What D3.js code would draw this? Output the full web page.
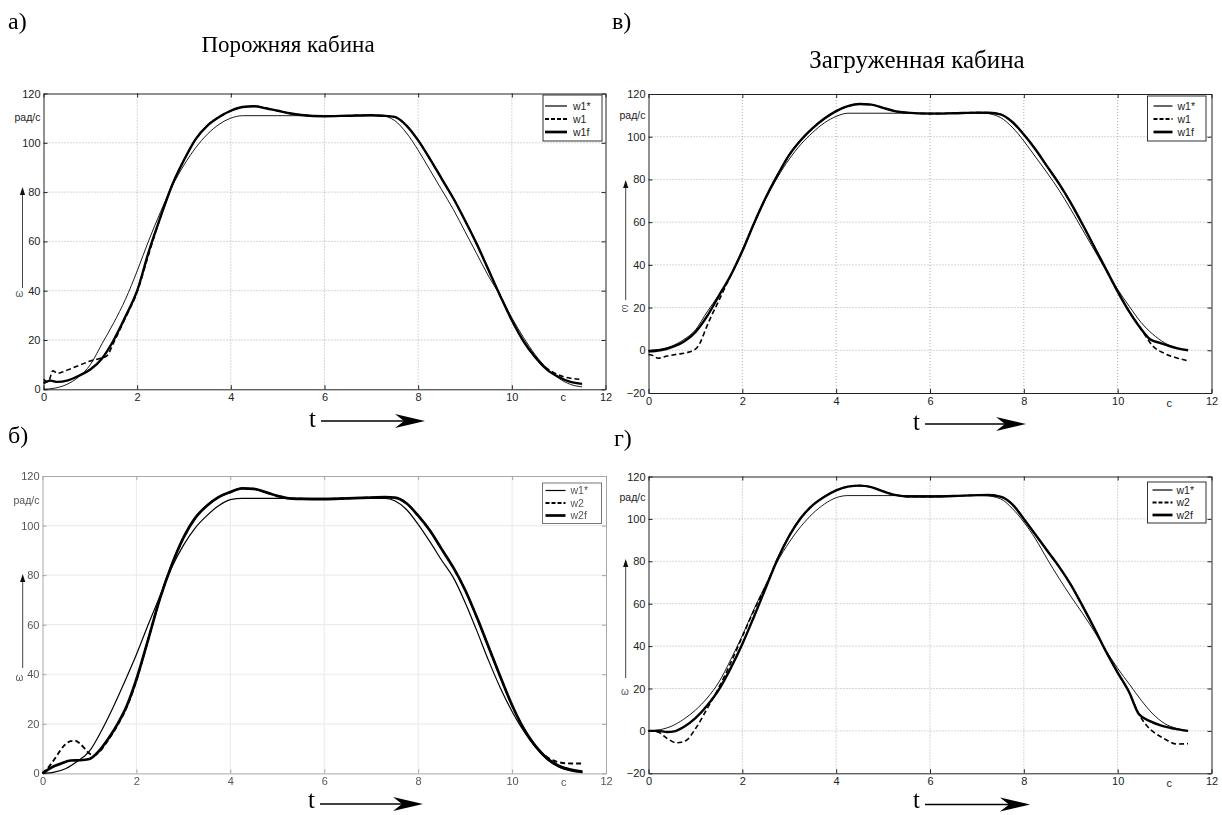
<!DOCTYPE html>
<html>
<head>
<meta charset="utf-8">
<script src="https://cdn.jsdelivr.net/npm/d3@7"></script>
<style>
  body { margin: 0; background: #fff; }
  svg { display: block; }
</style>
</head>
<body>
<svg id="chart" width="1222" height="815"></svg>
<script>
// ---- data: [t (s), omega (rad/s)] ----
const timeTicks = [0, 2, 4, 6, 8, 10, 12];
const emptyTicks = [0, 20, 40, 60, 80, 100, 120];
const loadedTicks = [-20, 0, 20, 40, 60, 80, 100, 120];
const legendNames1 = ["w1*", "w1", "w1f"];
const legendNames2 = ["w1*", "w2", "w2f"];

// а) empty cabin, sensor 1
const emptyRef1 = [[0,0],[0.25,0.5],[0.5,2],[0.75,5],[1,10],[1.25,18.5],[1.5,27],[1.75,36.5],[2,48],[2.25,60.5],[2.5,72],[2.75,82.5],[3,91],[3.25,98],[3.5,103.5],[3.75,107.5],[4,110],[4.25,111],[5,111],[6,111],[7,111],[7.2,111],[7.5,109],[7.75,104],[8,97],[8.25,89],[8.5,81],[8.75,73],[9,64],[9.25,55],[9.5,46],[9.75,38],[10,29],[10.25,21],[10.5,14],[10.75,8.5],[11,4.5],[11.25,2],[11.5,1]];
const emptyMeas1 = [[0,4],[0.1,3],[0.2,7.5],[0.3,6.5],[0.4,7],[0.6,8.5],[0.8,10],[1,11.5],[1.2,12.5],[1.35,13.5],[1.5,19],[1.75,29],[2,39.5],[2.25,55],[2.5,70],[2.75,83],[3,93],[3.25,101.5],[3.5,107],[3.75,110.5],[4,113],[4.25,114.5],[4.5,114.8],[4.75,114],[5,113],[5.25,112],[5.5,111.3],[6,110.8],[6.5,111],[7,111.2],[7.25,111],[7.5,110.5],[7.75,107],[8,101],[8.25,93.5],[8.5,85.5],[8.75,77.5],[9,68.5],[9.25,59],[9.5,48.5],[9.75,38],[10,28],[10.25,19.5],[10.5,13],[10.75,8.5],[11,5.8],[11.25,4.5],[11.5,4]];
const emptyFilt1 = [[0,2.5],[0.15,3.5],[0.3,3],[0.5,3.5],[0.75,5.5],[1,8],[1.25,12.5],[1.5,20],[1.75,29.5],[2,40],[2.25,56],[2.5,70],[2.75,83],[3,93],[3.25,101.5],[3.5,107],[3.75,110.5],[4,113],[4.25,114.5],[4.5,114.8],[4.75,114],[5,113],[5.25,112],[5.5,111.3],[6,110.8],[6.5,111],[7,111.2],[7.25,111],[7.5,110.5],[7.75,107],[8,101],[8.25,93.5],[8.5,85.5],[8.75,77.5],[9,68.5],[9.25,59],[9.5,48.5],[9.75,38],[10,28],[10.25,19.5],[10.5,13],[10.75,8],[11,5],[11.25,3],[11.5,2.2]];

// в) loaded cabin, sensor 1
const loadedRef1 = [[0,0],[0.25,0.5],[0.5,2],[0.75,5],[1,9.5],[1.25,18],[1.5,26],[1.75,35],[2,47],[2.25,59],[2.5,71],[2.75,81],[3,89.5],[3.25,96.5],[3.5,102],[3.75,106.5],[4,109.5],[4.25,111],[5,111],[6,111],[7,111],[7.15,111],[7.5,109],[7.75,104.5],[8,98],[8.25,90.5],[8.5,83],[8.75,75],[9,66],[9.25,56.5],[9.5,47],[9.75,37.5],[10,28.5],[10.25,20.5],[10.5,13],[10.75,7.5],[11,3.5],[11.25,1],[11.5,0]];
const loadedMeas1 = [[0,-2],[0.1,-2.5],[0.2,-3.7],[0.4,-2.7],[0.6,-1.9],[0.8,-1.2],[1,0.5],[1.1,3.5],[1.23,10.5],[1.35,16.5],[1.45,21],[1.6,28],[1.75,35],[2,46.5],[2.25,59.5],[2.5,71.5],[2.75,82],[3,91.5],[3.25,98.5],[3.5,104],[3.75,108.5],[4,112],[4.25,114.3],[4.5,115.3],[4.75,115],[5,113.5],[5.25,112],[5.5,111.3],[6,110.8],[6.5,111],[7,111.3],[7.25,111.2],[7.5,110.5],[7.75,107],[8,101],[8.25,94],[8.5,86],[8.75,78],[9,69],[9.25,59],[9.5,48.5],[9.75,38],[10,27.5],[10.25,18],[10.5,10],[10.75,2],[11,-1.5],[11.25,-3.5],[11.5,-5]];
const loadedFilt1 = [[0,-0.5],[0.25,0],[0.5,1.5],[0.75,4],[1,8.5],[1.25,16],[1.5,25.5],[1.75,35],[2,46.5],[2.25,59.5],[2.5,71.5],[2.75,82],[3,91.5],[3.25,98.5],[3.5,104],[3.75,108.5],[4,112],[4.25,114.3],[4.5,115.3],[4.75,115],[5,113.5],[5.25,112],[5.5,111.3],[6,110.8],[6.5,111],[7,111.3],[7.25,111.2],[7.5,110.5],[7.75,107],[8,101],[8.25,94],[8.5,86],[8.75,78],[9,69],[9.25,59],[9.5,48.5],[9.75,38],[10,27.5],[10.25,18],[10.5,10],[10.7,5],[10.9,3.5],[11.1,2],[11.3,0.8],[11.5,0]];

// б) empty cabin, sensor 2
const emptyRef2 = [[0,0],[0.25,0.5],[0.5,2],[0.75,5],[1,9],[1.25,17],[1.5,26.5],[1.75,37],[2,48],[2.25,60],[2.5,71.5],[2.75,83],[3,92],[3.25,99],[3.5,104],[3.75,108],[4,110.5],[4.25,111],[5,111],[6,111],[7,111],[7.3,111],[7.5,110],[7.75,106.5],[8,100.5],[8.25,93.5],[8.5,86],[8.75,79],[9,69],[9.25,57.5],[9.5,45.5],[9.75,34.5],[10,25],[10.25,17],[10.5,10.5],[10.75,5.5],[11,2.5],[11.25,1],[11.5,0.3]];
const emptyMeas2 = [[0,0],[0.15,3],[0.3,7],[0.45,11],[0.6,13],[0.7,13.2],[0.8,12],[0.9,10],[1,8],[1.1,7.3],[1.2,8.5],[1.4,13.5],[1.6,19.5],[1.8,27],[2,37.5],[2.25,54],[2.5,70.5],[2.75,84],[3,95],[3.25,103],[3.5,108],[3.75,111.5],[4,113.5],[4.25,115],[4.5,114.8],[4.75,113.5],[5,112],[5.25,111],[5.5,110.8],[6,110.7],[6.5,111],[7,111.3],[7.3,111.5],[7.5,111.3],[7.75,109],[8,104],[8.25,98],[8.5,90.5],[8.75,83],[9,74],[9.25,63],[9.5,51],[9.75,39],[10,27.5],[10.25,18],[10.5,11],[10.75,6.5],[11,4.5],[11.25,4],[11.5,4]];
const emptyFilt2 = [[0,0],[0.2,2.5],[0.4,4],[0.6,5.2],[0.8,5.3],[1,5.8],[1.2,9],[1.4,14],[1.6,20],[1.8,27.5],[2,38],[2.25,54],[2.5,70.5],[2.75,84],[3,95],[3.25,103],[3.5,108],[3.75,111.5],[4,113.5],[4.25,115],[4.5,114.8],[4.75,113.5],[5,112],[5.25,111],[5.5,110.8],[6,110.7],[6.5,111],[7,111.3],[7.3,111.5],[7.5,111.3],[7.75,109],[8,104],[8.25,98],[8.5,90.5],[8.75,83],[9,74],[9.25,63],[9.5,51],[9.75,39],[10,27.5],[10.25,18],[10.5,11],[10.75,6],[11,3],[11.25,1.5],[11.5,0.7]];

// г) loaded cabin, sensor 2
const loadedRef2 = [[0,0],[0.25,0.6],[0.5,2.3],[0.75,5.5],[1,9.8],[1.25,15.5],[1.5,23],[1.75,33.5],[2,45],[2.25,57.5],[2.5,69],[2.75,80],[3,89],[3.25,96.5],[3.5,102.5],[3.75,107],[4,110],[4.25,111],[5,111],[6,111],[7,111],[7.15,111],[7.5,109.5],[7.75,105],[8,98.5],[8.25,90.5],[8.5,81],[8.75,72],[9,63.5],[9.25,55.5],[9.5,47],[9.75,38],[10,29.5],[10.25,22],[10.5,14.5],[10.75,8],[11,3.5],[11.25,1.2],[11.5,0]];
const loadedMeas2 = [[0,0],[0.2,-0.5],[0.4,-3.6],[0.6,-5.6],[0.8,-4.5],[1,1],[1.25,10.5],[1.5,20.5],[1.75,32],[2,44.5],[2.25,57],[2.5,68.5],[2.75,81],[3,92],[3.25,100.5],[3.5,106.5],[3.75,110.5],[4,113.5],[4.25,115.2],[4.5,115.7],[4.75,115],[5,113],[5.25,111.3],[5.5,110.6],[6,110.5],[6.5,110.8],[7,111.2],[7.25,111.3],[7.5,110.5],[7.75,107],[8,100],[8.25,92.5],[8.5,85],[8.75,77.5],[9,69],[9.25,59],[9.5,48.5],[9.75,37.5],[10,27.5],[10.25,18],[10.45,8],[10.6,3],[10.76,-0.5],[10.9,-2.5],[11.05,-4.4],[11.25,-6.2],[11.5,-6]];
const loadedFilt2 = [[0,0],[0.2,0],[0.4,-0.5],[0.55,-0.2],[0.75,1.8],[1,6],[1.25,12],[1.5,19.5],[1.75,29.5],[2,41],[2.25,54],[2.5,67.5],[2.75,81],[3,92],[3.25,100.5],[3.5,106.5],[3.75,110.5],[4,113.5],[4.25,115.2],[4.5,115.7],[4.75,115],[5,113],[5.25,111.3],[5.5,110.6],[6,110.5],[6.5,110.8],[7,111.2],[7.25,111.3],[7.5,110.5],[7.75,107],[8,100],[8.25,92.5],[8.5,85],[8.75,77.5],[9,69],[9.25,59],[9.5,48.5],[9.75,37.5],[10,27.5],[10.25,18],[10.45,8],[10.7,4.5],[10.9,2.7],[11.2,1.1],[11.5,0]];

// ---- layout ----
const panels = [
  { letter: "а)", lx: 8, ly: 29, title: "Порожняя кабина", tx: 288, ty: 52, tsize: 23,
    left: 43.5, right: 605.5, top: 93.5, bottom: 389.3, yDomain: [0, 120], yTicks: emptyTicks,
    series: [emptyRef1, emptyMeas1, emptyFilt1], names: legendNames1,
    legend: { x: 543, y: 95, w: 59, h: 46, r0: 11, dr: 13, sx: 2, sw: 22, txt: 30 },
    tArr: { x: 309, ty: 427, y: 421, x2: 425 },
    wArr: { x: 22.5, y1: 288, y2: 187, wx: 19.5, wy: 294, rot: 0 },
    secDy: 12, scan: false },
  { letter: "в)", lx: 612, ly: 29, title: "Загруженная кабина", tx: 917, ty: 68, tsize: 25,
    left: 648.5, right: 1211.5, top: 94, bottom: 393, yDomain: [-20, 120], yTicks: loadedTicks,
    series: [loadedRef1, loadedMeas1, loadedFilt1], names: legendNames1,
    legend: { x: 1147.5, y: 96, w: 58.5, h: 45, r0: 10, dr: 13, sx: 6, sw: 19, txt: 30 },
    tArr: { x: 913, ty: 430, y: 424, x2: 1026 },
    wArr: { x: 625.7, y1: 300, y2: 180, wx: 625.5, wy: 308.5, rot: 90 },
    secDy: 14, scan: false },
  { letter: "б)", lx: 8, ly: 443, title: null,
    left: 42.5, right: 606, top: 476, bottom: 773.4, yDomain: [0, 120], yTicks: emptyTicks,
    series: [emptyRef2, emptyMeas2, emptyFilt2], names: legendNames2,
    legend: { x: 542.5, y: 483, w: 59, h: 40.5, r0: 7.5, dr: 12.5, sx: 3, sw: 20, txt: 28 },
    tArr: { x: 308, ty: 808, y: 804, x2: 423 },
    wArr: { x: 22.7, y1: 668, y2: 574, wx: 19.5, wy: 678, rot: 0 },
    secDy: 13, scan: true },
  { letter: "г)", lx: 614, ly: 446, title: null,
    left: 648.5, right: 1211.5, top: 476.5, bottom: 773.3, yDomain: [-20, 120], yTicks: loadedTicks,
    series: [loadedRef2, loadedMeas2, loadedFilt2], names: legendNames2,
    legend: { x: 1147.5, y: 482, w: 58.5, h: 41, r0: 8, dr: 12.5, sx: 5, sw: 20, txt: 29 },
    tArr: { x: 913, ty: 808, y: 804.5, x2: 1030 },
    wArr: { x: 625.7, y1: 678, y2: 559, wx: 625, wy: 692, rot: 0 },
    secDy: 13.5, scan: false }
];

const svg = d3.select("#chart");
const sans = "'Liberation Sans', Arial, sans-serif";
const serif = "'Liberation Serif', 'Times New Roman', serif";

const defs = svg.append("defs");
defs.append("filter").attr("id", "scan")
  .append("feGaussianBlur").attr("stdDeviation", 0.45);

const seriesStyle = [
  { width: 0.9, dash: null },      // reference w1*
  { width: 1.6, dash: "5,3" },     // measured (dashed)
  { width: 2.4, dash: null }       // filtered (thick)
];

panels.forEach((p) => {
  const g = svg.append("g");
  if (p.scan) g.attr("filter", "url(#scan)");

  const frameColor = p.scan ? "#a8a8a8" : "#222";
  const labelColor = p.scan ? "#555" : "#222";

  const x = d3.scaleLinear().domain([0, 12]).range([p.left, p.right]);
  const y = d3.scaleLinear().domain(p.yDomain).range([p.bottom, p.top]);

  // grid
  const grid = g.append("g")
    .attr("stroke", p.scan ? "#ececec" : "#9a9a9a")
    .attr("stroke-width", p.scan ? 1.2 : 0.8)
    .attr("stroke-dasharray", p.scan ? null : "1,2");
  grid.selectAll("line.v").data(timeTicks.slice(1, -1)).join("line")
    .attr("x1", (d) => x(d)).attr("x2", (d) => x(d))
    .attr("y1", p.top).attr("y2", p.bottom);
  grid.selectAll("line.h").data(p.yTicks.slice(1, -1)).join("line")
    .attr("x1", p.left).attr("x2", p.right)
    .attr("y1", (d) => y(d)).attr("y2", (d) => y(d));

  // axes (MATLAB-like, ticks inside on all sides)
  const axes = [
    [d3.axisBottom(x), `translate(0,${p.bottom})`, timeTicks, 4],
    [d3.axisTop(x), `translate(0,${p.top})`, timeTicks, null],
    [d3.axisLeft(y), `translate(${p.left},0)`, p.yTicks, 3],
    [d3.axisRight(y), `translate(${p.right},0)`, p.yTicks, null]
  ];
  axes.forEach(([ax, tr, ticks, pad]) => {
    const labelled = pad !== null;
    const a = g.append("g").attr("transform", tr)
      .call(ax.tickValues(ticks).tickSizeInner(-4).tickSizeOuter(0)
        .tickPadding(labelled ? pad : 0).tickFormat(labelled ? d3.format("d") : ""));
    a.select(".domain").attr("stroke", frameColor).attr("stroke-width", 1);
    a.selectAll(".tick line").attr("stroke", frameColor);
    a.selectAll(".tick text")
      .attr("font-family", sans).attr("font-size", 11).attr("fill", labelColor);
  });

  // curves
  const line = d3.line()
    .x((d) => x(d[0]))
    .y((d) => y(d[1]))
    .curve(d3.curveMonotoneX);
  [0, 2, 1].forEach((i) => {
    g.append("path")
      .datum(p.series[i])
      .attr("fill", "none")
      .attr("stroke", "#000")
      .attr("stroke-width", seriesStyle[i].width + (p.scan ? 0.3 : 0))
      .attr("stroke-dasharray", seriesStyle[i].dash)
      .attr("stroke-linejoin", "round")
      .attr("d", line);
  });

  // legend
  const L = p.legend;
  const lg = g.append("g").attr("transform", `translate(${L.x},${L.y})`);
  lg.append("rect").attr("width", L.w).attr("height", L.h)
    .attr("fill", "#fff").attr("stroke", p.scan ? "#777" : "#333").attr("stroke-width", 1);
  p.names.forEach((name, i) => {
    const ry = L.r0 + i * L.dr;
    lg.append("line")
      .attr("x1", L.sx).attr("x2", L.sx + L.sw).attr("y1", ry).attr("y2", ry)
      .attr("stroke", "#000")
      .attr("stroke-width", seriesStyle[i].width + 0.3)
      .attr("stroke-dasharray", seriesStyle[i].dash ? "4,2" : null);
    lg.append("text")
      .attr("x", L.txt).attr("y", ry + 3.8)
      .attr("font-family", sans).attr("font-size", 10.5).attr("fill", labelColor)
      .text(name);
  });

  // units
  g.append("text")
    .attr("x", p.left - 3).attr("y", y(110.3) + 4)
    .attr("text-anchor", "end")
    .attr("font-family", sans).attr("font-size", 10.5).attr("fill", labelColor)
    .text("рад/с");
  g.append("text")
    .attr("x", x(11.1)).attr("y", p.bottom + p.secDy)
    .attr("text-anchor", "middle")
    .attr("font-family", sans).attr("font-size", 11).attr("fill", labelColor)
    .text("с");

  // omega arrow
  const W = p.wArr;
  g.append("line")
    .attr("x1", W.x).attr("x2", W.x).attr("y1", W.y1).attr("y2", W.y2 + 6)
    .attr("stroke", "#444").attr("stroke-width", 1);
  g.append("path")
    .attr("d", `M${W.x},${W.y2} L${W.x - 2.6},${W.y2 + 8} L${W.x + 2.6},${W.y2 + 8} Z`)
    .attr("fill", "#111");
  g.append("text")
    .attr("transform", `translate(${W.wx},${W.wy}) rotate(${W.rot})`)
    .attr("text-anchor", "middle").attr("dy", "0.32em")
    .attr("font-family", sans).attr("font-size", 10).attr("fill", "#555")
    .text("ω");
});

// time arrows and labels (outside the scan blur)
panels.forEach((p) => {
  const T = p.tArr;
  svg.append("text")
    .attr("x", T.x).attr("y", T.ty)
    .attr("font-family", serif).attr("font-size", 25).attr("fill", "#000")
    .text("t");
  svg.append("line")
    .attr("x1", T.x + 12).attr("x2", T.x2 - 18).attr("y1", T.y).attr("y2", T.y)
    .attr("stroke", "#000").attr("stroke-width", 1.6);
  svg.append("path")
    .attr("d", `M${T.x2},${T.y} L${T.x2 - 30},${T.y - 7} L${T.x2 - 21},${T.y} L${T.x2 - 30},${T.y + 7} Z`)
    .attr("fill", "#000");

  svg.append("text")
    .attr("x", p.lx).attr("y", p.ly)
    .attr("font-family", serif).attr("font-size", 24).attr("fill", "#000")
    .text(p.letter);
  if (p.title) {
    svg.append("text")
      .attr("x", p.tx).attr("y", p.ty)
      .attr("text-anchor", "middle")
      .attr("font-family", serif).attr("font-size", p.tsize).attr("fill", "#000")
      .text(p.title);
  }
});
</script>
</body>
</html>
